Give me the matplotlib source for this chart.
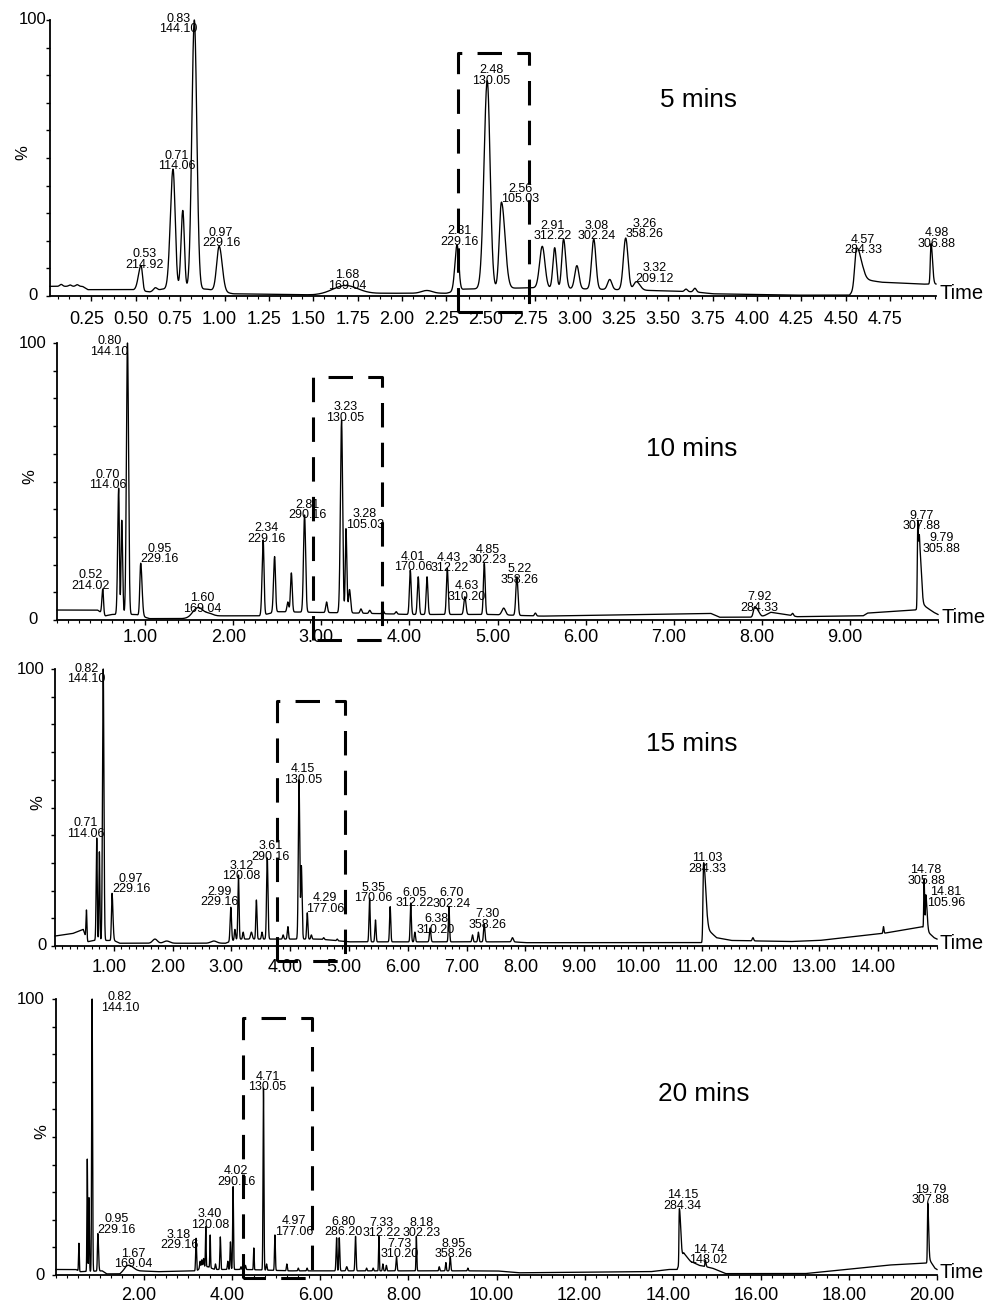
import numpy as np
import matplotlib
matplotlib.use("Agg")
import matplotlib.pyplot as plt
from matplotlib.lines import Line2D
from matplotlib.ticker import MultipleLocator
from matplotlib.transforms import ScaledTranslation

plt.rcParams['font.family'] = ['Liberation Sans', 'DejaVu Sans']

W, H = 991, 1307

# ---------------- data ----------------
# peaks: (retention time, apex %, left width, right width)

# 5 min run
p1_title = "5 mins"
p1_base_t = [0.0, 0.20, 0.23, 0.47, 0.58, 0.65, 0.90, 1.05, 1.50, 1.90, 2.25, 2.35, 2.75, 3.40,
             3.65, 3.75, 4.20, 4.52, 4.60, 4.70, 4.93, 5.01]
p1_base_y = [3.5, 3.5, 2.3, 2.3, 1.5, 2.5, 2.5, 0.8, 0.4, 1.0, 1.0, 2.5, 3.0, 2.0,
             1.5, 0.8, 0.3, 0.3, 6.0, 5.0, 4.3, 4.3]
p1_peaks = [(0.08, 4.2, 0.008, 0.008), (0.13, 4.0, 0.008, 0.008), (0.17, 4.1, 0.008, 0.008),
            (0.53, 11.0, 0.015, 0.008), (0.61, 3.0, 0.01, 0.01), (0.71, 46.0, 0.015, 0.012),
            (0.765, 31.0, 0.01, 0.009), (0.83, 100.0, 0.014, 0.014), (0.97, 18.0, 0.014, 0.017),
            (1.68, 3.8, 0.07, 0.07), (2.14, 2.0, 0.03, 0.03), (2.31, 18.5, 0.012, 0.010),
            (2.48, 78.0, 0.018, 0.016), (2.56, 34.0, 0.012, 0.02), (2.79, 18.0, 0.015, 0.015),
            (2.86, 17.5, 0.01, 0.01), (2.91, 20.6, 0.01, 0.012), (2.985, 11.0, 0.012, 0.012),
            (3.08, 20.6, 0.012, 0.012), (3.17, 6.0, 0.012, 0.012), (3.26, 21.0, 0.013, 0.013),
            (3.32, 5.2, 0.015, 0.02), (3.60, 2.5, 0.008, 0.008), (3.65, 2.8, 0.008, 0.008),
            (4.56, 17.3, 0.01, 0.025), (4.98, 19.0, 0.004, 0.008)]
p1_labels = [("0.53", "214.92"), ("0.71", "114.06"), ("0.83", "144.10"), ("0.97", "229.16"),
             ("1.68", "169.04"), ("2.31", "229.16"), ("2.48", "130.05"), ("2.56", "105.03"),
             ("2.91", "312.22"), ("3.08", "302.24"), ("3.26", "358.26"), ("3.32", "209.12"),
             ("4.57", "284.33"), ("4.98", "306.88")]
p1_ticks = [0.25, 0.50, 0.75, 1.00, 1.25, 1.50, 1.75, 2.00, 2.25, 2.50, 2.75, 3.00, 3.25,
            3.50, 3.75, 4.00, 4.25, 4.50, 4.75]

# 10 min run
p2_title = "10 mins"
p2_base_t = [0.0, 0.46, 0.55, 0.62, 0.90, 1.05, 1.50, 1.80, 2.30, 2.50, 3.40, 4.00, 4.90, 5.50,
             7.42, 7.52, 8.00, 8.10, 8.30, 8.40, 9.15, 9.20, 9.74, 9.85, 9.95, 10.0]
p2_base_y = [3.6, 3.6, 1.5, 2.0, 2.0, 0.5, 0.5, 1.5, 1.5, 3.0, 2.5, 2.0, 2.0, 1.4,
             2.4, 1.0, 1.0, 2.8, 1.8, 1.2, 1.5, 2.5, 3.6, 5.0, 2.8, 2.0]
p2_peaks = [(0.52, 11.2, 0.01, 0.008), (0.70, 47.6, 0.011, 0.008), (0.735, 36.0, 0.008, 0.01),
            (0.80, 100.0, 0.012, 0.012), (0.95, 20.5, 0.01, 0.015), (1.60, 4.5, 0.06, 0.06),
            (1.73, 2.5, 0.04, 0.04), (2.34, 28.9, 0.012, 0.01), (2.47, 22.9, 0.012, 0.01),
            (2.62, 6.5, 0.01, 0.01), (2.66, 17.0, 0.01, 0.01), (2.81, 37.9, 0.012, 0.012),
            (3.06, 6.5, 0.01, 0.01), (3.23, 72.0, 0.013, 0.012), (3.28, 33.0, 0.008, 0.01),
            (3.32, 11.0, 0.01, 0.012), (3.45, 4.0, 0.01, 0.01), (3.55, 3.5, 0.01, 0.01),
            (3.70, 3.5, 0.01, 0.01), (3.85, 3.0, 0.01, 0.01), (4.01, 18.0, 0.01, 0.01),
            (4.10, 15.6, 0.01, 0.01), (4.20, 15.6, 0.01, 0.01), (4.43, 18.7, 0.01, 0.01),
            (4.63, 8.4, 0.012, 0.012), (4.85, 20.5, 0.01, 0.01), (5.07, 4.3, 0.02, 0.02),
            (5.22, 15.6, 0.012, 0.012), (5.43, 2.5, 0.01, 0.01), (7.92, 4.8, 0.015, 0.04),
            (8.35, 2.4, 0.01, 0.01), (9.77, 36.0, 0.005, 0.01), (9.79, 30.0, 0.006, 0.02)]
p2_labels = [("0.52", "214.02"), ("0.70", "114.06"), ("0.80", "144.10"), ("0.95", "229.16"),
             ("1.60", "169.04"), ("2.34", "229.16"), ("2.81", "290.16"), ("3.23", "130.05"),
             ("3.28", "105.03"), ("4.01", "170.06"), ("4.43", "312.22"), ("4.63", "310.20"),
             ("4.85", "302.23"), ("5.22", "358.26"), ("7.92", "284.33"), ("9.77", "307.88"),
             ("9.79", "305.88")]
p2_ticks = [1.0, 2.0, 3.0, 4.0, 5.0, 6.0, 7.0, 8.0, 9.0]

# 15 min run
p3_title = "15 mins"
p3_base_t = [0.0, 0.30, 0.48, 0.55, 0.65, 1.00, 1.10, 2.90, 3.10, 4.50, 5.00, 7.80, 8.00, 11.0,
             11.10, 11.25, 11.50, 12.50, 13.00, 14.10, 14.75, 14.85, 14.95, 15.0]
p3_base_y = [3.6, 4.5, 6.0, 1.5, 2.0, 2.0, 1.0, 1.0, 2.5, 2.5, 1.5, 1.5, 1.2, 1.2,
             6.0, 3.0, 2.0, 1.6, 2.0, 4.6, 7.0, 5.0, 3.0, 2.5]
p3_peaks = [(0.535, 13.0, 0.008, 0.008), (0.71, 39.0, 0.01, 0.008), (0.755, 34.0, 0.008, 0.008),
            (0.82, 100.0, 0.012, 0.012), (0.97, 19.0, 0.01, 0.015), (1.70, 2.5, 0.04, 0.04),
            (1.90, 1.8, 0.05, 0.05), (2.70, 1.8, 0.05, 0.05), (2.99, 14.0, 0.012, 0.012),
            (3.06, 6.0, 0.01, 0.01), (3.12, 25.6, 0.01, 0.01), (3.20, 5.0, 0.01, 0.01),
            (3.34, 5.0, 0.015, 0.015), (3.425, 16.6, 0.01, 0.01), (3.52, 5.0, 0.01, 0.01),
            (3.61, 31.8, 0.012, 0.012), (3.88, 4.0, 0.01, 0.01), (3.96, 7.0, 0.01, 0.01),
            (4.15, 60.0, 0.012, 0.012), (4.19, 29.0, 0.01, 0.012), (4.29, 12.0, 0.01, 0.01),
            (4.36, 4.0, 0.01, 0.01), (4.57, 3.0, 0.01, 0.01), (4.80, 2.5, 0.01, 0.01),
            (5.35, 17.3, 0.01, 0.01), (5.45, 9.4, 0.01, 0.01), (5.70, 14.2, 0.01, 0.01),
            (6.05, 15.5, 0.01, 0.01), (6.12, 5.0, 0.01, 0.01), (6.38, 6.5, 0.012, 0.012),
            (6.70, 14.2, 0.01, 0.01), (7.10, 4.0, 0.01, 0.01), (7.20, 5.0, 0.01, 0.01),
            (7.30, 8.0, 0.012, 0.012), (7.78, 3.0, 0.015, 0.015), (11.03, 30.0, 0.01, 0.035),
            (11.87, 3.0, 0.012, 0.012), (14.09, 7.0, 0.008, 0.008), (14.78, 24.0, 0.006, 0.01),
            (14.81, 18.5, 0.006, 0.02)]
p3_labels = [("0.71", "114.06"), ("0.82", "144.10"), ("0.97", "229.16"), ("2.99", "229.16"),
             ("3.12", "120.08"), ("3.61", "290.16"), ("4.15", "130.05"), ("4.29", "177.06"),
             ("5.35", "170.06"), ("6.05", "312.22"), ("6.38", "310.20"), ("6.70", "302.24"),
             ("7.30", "358.26"), ("11.03", "284.33"), ("14.78", "305.88"), ("14.81", "105.96")]
p3_ticks = [1.0, 2.0, 3.0, 4.0, 5.0, 6.0, 7.0, 8.0, 9.0, 10.0, 11.0, 12.0, 13.0, 14.0]

# 20 min run
p4_title = "20 mins"
p4_base_t = [0.0, 0.45, 0.55, 1.05, 1.15, 1.45, 1.60, 1.90, 2.30, 3.20, 3.30, 3.45, 3.60, 4.30,
             5.30, 10.0, 10.5, 13.5, 13.9, 14.10, 14.25, 14.40, 14.60, 14.90, 15.20, 17.0, 18.9,
             19.75, 19.85, 19.95, 20.0]
p4_base_y = [2.0, 2.0, 1.2, 1.5, 0.4, 0.4, 2.5, 1.5, 1.2, 1.5, 3.0, 3.0, 2.0, 2.0,
             1.5, 1.5, 0.8, 1.2, 2.0, 2.0, 8.0, 5.0, 3.5, 2.5, 0.5, 0.5, 3.6,
             4.3, 5.0, 2.5, 2.0]
p4_peaks = [(0.52, 11.5, 0.008, 0.008), (0.71, 42.0, 0.008, 0.008), (0.75, 28.0, 0.008, 0.008),
            (0.82, 100.0, 0.01, 0.01), (0.95, 15.0, 0.01, 0.015), (1.67, 3.5, 0.08, 0.08),
            (1.85, 1.5, 0.04, 0.04), (3.18, 13.3, 0.01, 0.01), (3.27, 5.0, 0.01, 0.01),
            (3.31, 5.5, 0.01, 0.01), (3.35, 6.0, 0.01, 0.01), (3.40, 17.5, 0.008, 0.008),
            (3.50, 14.5, 0.008, 0.008), (3.62, 4.0, 0.01, 0.01), (3.73, 13.8, 0.01, 0.01),
            (3.90, 5.0, 0.01, 0.01), (3.96, 12.0, 0.01, 0.01), (4.02, 32.0, 0.01, 0.01),
            (4.20, 3.0, 0.01, 0.01), (4.30, 3.5, 0.01, 0.01), (4.49, 9.8, 0.008, 0.008),
            (4.71, 67.7, 0.01, 0.01), (4.78, 4.0, 0.01, 0.01), (4.97, 14.5, 0.01, 0.01),
            (5.24, 4.0, 0.01, 0.01), (5.50, 2.5, 0.01, 0.01), (5.70, 2.5, 0.01, 0.01),
            (6.37, 13.5, 0.012, 0.01), (6.43, 13.5, 0.01, 0.012), (6.60, 3.0, 0.015, 0.015),
            (6.80, 14.0, 0.012, 0.012), (7.05, 2.5, 0.01, 0.01), (7.20, 2.5, 0.01, 0.01),
            (7.33, 14.0, 0.008, 0.008), (7.42, 4.0, 0.01, 0.01), (7.50, 3.5, 0.01, 0.01),
            (7.73, 6.5, 0.012, 0.012), (8.18, 14.0, 0.008, 0.01), (8.70, 3.0, 0.01, 0.01),
            (8.85, 4.5, 0.01, 0.01), (8.95, 6.5, 0.012, 0.012), (9.35, 2.5, 0.01, 0.01),
            (14.15, 24.0, 0.008, 0.03), (14.74, 5.4, 0.008, 0.015), (19.79, 26.0, 0.008, 0.02)]
p4_labels = [("0.82", "144.10"), ("0.95", "229.16"), ("1.67", "169.04"), ("3.18", "229.16"),
             ("3.40", "120.08"), ("4.02", "290.16"), ("4.71", "130.05"), ("4.97", "177.06"),
             ("6.80", "286.20"), ("7.33", "312.22"), ("7.73", "310.20"), ("8.18", "302.23"),
             ("8.95", "358.26"), ("14.15", "284.34"), ("14.74", "148.02"), ("19.79", "307.88")]
p4_ticks = [2.0, 4.0, 6.0, 8.0, 10.0, 12.0, 14.0, 16.0, 18.0, 20.0]

# ---------------- layout (pixels of the 991x1307 image) ----------------
# axes box: x0, x1, y(100%), y(0%); xlim; minor tick step; tick pad
layout = [
    dict(box=(50, 936, 20, 296), xlim=(0.017, 5.008), minor=0.0625, pad=7.0,
         title_xy=(699, 100), pct_dx=-27, r100=3, r0=12, dash=(458, 53, 529, 312),
         nudge={'0.53': (3, -2), '0.71': (4, 0), '0.83': (-16, -12), '0.97': (2, 0),
                '1.68': (2, -3), '2.31': (2, 0), '2.48': (4, -3), '2.56': (19, 0),
                '2.91': (-11, 0), '3.26': (19, 1), '3.32': (18, 0), '4.57': (5, -5),
                '4.98': (6, -3)}),
    dict(box=(57, 938, 343, 620), xlim=(0.0, 10.0), minor=0.125, pad=3.0,
         title_xy=(692, 449), pct_dx=-27, r100=10, r0=19, dash=(313, 377, 382, 640),
         nudge={'0.52': (-12, 0), '0.70': (-11, 0), '0.80': (-18, -12), '0.95': (19, 1),
                '1.60': (4, -4), '2.34': (3, -2), '2.81': (3, -3), '3.23': (4, 0),
                '3.28': (19, 1), '4.43': (2, -3), '4.63': (2, -3), '5.22': (3, -6),
                '7.92': (5, -4), '9.77': (4, -9), '9.79': (22, -15)}),
    dict(box=(55, 937, 669, 946), xlim=(0.0, 15.0), minor=0.125, pad=5.5,
         title_xy=(692, 744), pct_dx=-17, r100=10, r0=8, dash=(277, 701, 345, 961),
         nudge={'0.82': (-17, -13), '0.71': (-11, 1), '0.97': (19, 1), '2.99': (-11, 2),
                '3.12': (3, -4), '3.61': (3, -2), '4.15': (4, -3), '4.29': (18, 1),
                '5.35': (4, -3), '6.05': (4, -3), '6.38': (6, -5), '7.30': (3, -4),
                '11.03': (4, -9), '14.78': (2, -4), '14.81': (20, -11)}),
    dict(box=(56, 937, 999, 1275), xlim=(0.0, 20.0), minor=0.25, pad=4.8,
         title_xy=(704, 1094), pct_dx=-14, r100=11, r0=11, dash=(243, 1018, 312, 1278),
         nudge={'0.82': (28, -12), '0.95': (19, 1), '1.67': (4, -2), '3.18': (-17, -10),
                '3.40': (4, -1), '4.02': (3, 2), '4.71': (4, -2), '4.97': (19, 0),
                '6.80': (-12, 1), '8.18': (5, 0), '14.74': (3, -3)}),
]

runs = [
    (p1_title, p1_base_t, p1_base_y, p1_peaks, p1_labels, p1_ticks),
    (p2_title, p2_base_t, p2_base_y, p2_peaks, p2_labels, p2_ticks),
    (p3_title, p3_base_t, p3_base_y, p3_peaks, p3_labels, p3_ticks),
    (p4_title, p4_base_t, p4_base_y, p4_peaks, p4_labels, p4_ticks),
]


def shape(t, rt, sl, sr):
    s = np.where(t < rt, sl, sr)
    return np.exp(-0.5 * ((t - rt) / s) ** 2)


def build_trace(t, base_t, base_y, peaks):
    # baseline plus one skewed gaussian per peak; amplitudes chosen so that
    # the summed trace passes through each read apex
    rts = np.array([p[0] for p in peaks])
    hs = np.array([p[1] for p in peaks])
    mat = np.array([[shape(np.array([r]), p[0], p[2], p[3])[0] for p in peaks] for r in rts])
    amps = np.linalg.solve(mat, hs - np.interp(rts, base_t, base_y))
    amps = np.clip(amps, 0, None)
    y = np.interp(t, base_t, base_y)
    for (rt, h, sl, sr), a in zip(peaks, amps):
        y = y + a * shape(t, rt, sl, sr)
    return y


fig = plt.figure(figsize=(W / 100, H / 100), dpi=100)
fig.patch.set_facecolor('white')
shift_left = ScaledTranslation(-5 / 100, 0, fig.dpi_scale_trans)

for (title, bt, by, peaks, labels, ticks), lay in zip(runs, layout):
    x0, x1, ytop, ybot = lay['box']
    ax = fig.add_axes([x0 / W, 1 - ybot / H, (x1 - x0) / W, (ybot - ytop) / H])
    t = np.linspace(lay['xlim'][0], lay['xlim'][1], 30000)
    y = build_trace(t, bt, by, peaks)
    ax.plot(t, y, color='black', lw=0.95, clip_on=False)
    ax.set_xlim(*lay['xlim'])
    ax.set_ylim(0, 100)
    ax.patch.set_alpha(0)
    for side in ['top', 'right']:
        ax.spines[side].set_visible(False)
    for side in ['left', 'bottom']:
        ax.spines[side].set_linewidth(1.3)

    ax.set_xticks(ticks)
    ax.set_xticklabels(['%.2f' % v for v in ticks], fontsize=13)
    ax.xaxis.set_minor_locator(MultipleLocator(lay['minor']))
    ax.tick_params(axis='x', which='major', length=3.6, width=1.0, pad=lay['pad'])
    ax.tick_params(axis='x', which='minor', length=2.2, width=0.8)
    for lbl in ax.get_xticklabels():
        lbl.set_transform(lbl.get_transform() + shift_left)

    ax.set_yticks(range(0, 101, 10))
    ax.set_yticklabels([])
    ax.tick_params(axis='y', length=2.6, width=1.0)
    ax.annotate('100', xy=(0, 1), xycoords='axes fraction', xytext=(-lay['r100'], 0),
                textcoords='offset pixels', ha='right', va='center', fontsize=12)
    ax.annotate('0', xy=(0, 0), xycoords='axes fraction', xytext=(-lay['r0'], 0),
                textcoords='offset pixels', ha='right', va='center', fontsize=12)
    ax.annotate('%', xy=(0, 0.5), xycoords='axes fraction', xytext=(lay['pct_dx'], 5),
                textcoords='offset pixels', ha='center', va='center', fontsize=12,
                rotation=90)
    ax.annotate('Time', xy=(1, 0), xycoords='axes fraction', xytext=(3, -3),
                textcoords='offset pixels', ha='left', va='baseline', fontsize=14.5)

    # peak labels: retention time over m/z, anchored at the read apex
    peak_rt = np.array([p[0] for p in peaks])
    for rt_txt, mz_txt in labels:
        rt = float(rt_txt)
        yv = peaks[int(np.argmin(np.abs(peak_rt - rt)))][1]
        dx, dy = lay['nudge'].get(rt_txt, (3, 0))
        ax.annotate(mz_txt, xy=(rt, yv), xytext=(dx, dy), textcoords='offset pixels',
                    ha='center', va='baseline', fontsize=9, annotation_clip=False)
        ax.annotate(rt_txt, xy=(rt, yv), xytext=(dx, dy + 10.5), textcoords='offset pixels',
                    ha='center', va='baseline', fontsize=9, annotation_clip=False)

    tx, ty = lay['title_xy']
    fig.text(tx / W, 1 - ty / H, title, ha='center', va='center', fontsize=18.8)

    # dashed highlight box around the 130.05 peak
    bx0, by0, bx1, by1 = lay['dash']
    xs = np.array([bx0, bx0, bx1, bx1, bx0]) / W
    ys = 1 - np.array([by1, by0, by0, by1, by1]) / H
    fig.add_artist(Line2D(xs, ys, color='black', lw=2.2, linestyle=(0, (8, 5)),
                          dash_capstyle='butt'))

fig.savefig('out.png', dpi=100, facecolor='white')
